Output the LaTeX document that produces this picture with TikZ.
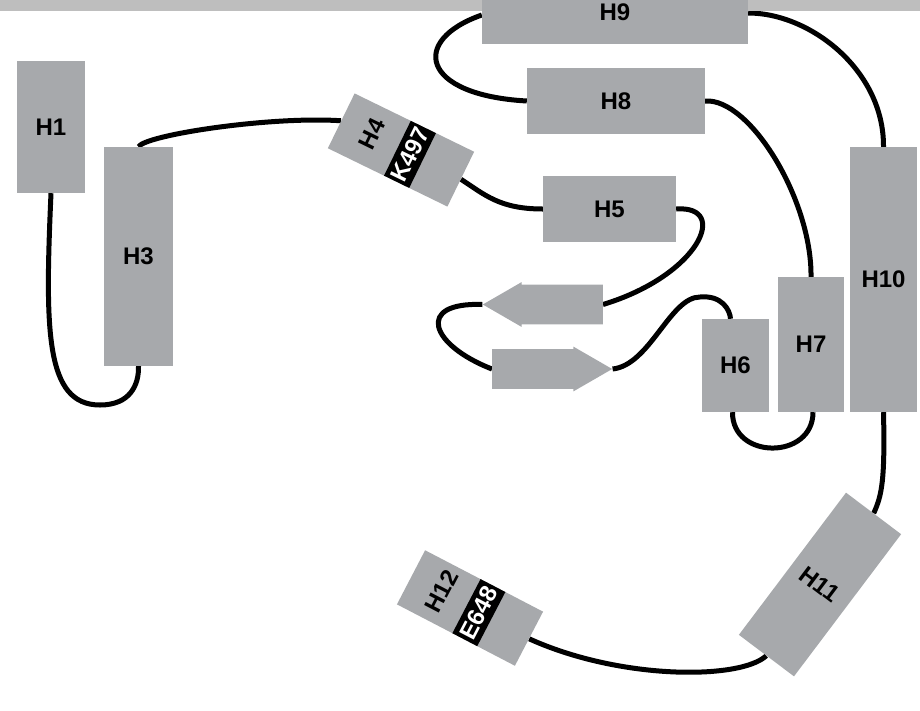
\documentclass[tikz,border=0pt]{standalone}
\usepackage{fontspec}
\setmainfont{Liberation Sans}
\usetikzlibrary{shapes.arrows}
\pgfdeclarelayer{back}
\pgfsetlayers{back,main}
\definecolor{helixgray}{HTML}{A7A9AC}
\definecolor{stripgray}{HTML}{BEBEBE}
\tikzset{
helix/.style={fill=helixgray,inner sep=0pt,font=\bfseries\fontsize{24}{24}\selectfont},
strand/.style={single arrow,fill=helixgray,inner xsep=0pt,inner ysep=19.75pt,minimum height=120pt,single arrow tip angle=60,single arrow head extend=2.5pt},
loop/.style={line width=5pt},
tag/.style={fill=black,text=white,inner sep=0pt,font=\bfseries\fontsize{24}{24}\selectfont},
}
\providecommand{\TaggedHelix}[6]{
\begin{scope}[shift={(#2)},rotate=#3,transform shape]
\node[helix,minimum width=133pt,minimum height=61pt] (#1) at (0,0) {};
\node[font=\bfseries\fontsize{24}{24}\selectfont,rotate=90] at (-33,2) {#4};
\node[tag,rotate=90,minimum width=61pt,minimum height=28pt] (#5) at (10,0) {#6};
\end{scope}
}

\begin{document}
\begin{tikzpicture}[x=1pt,y=1pt]
\useasboundingbox (0,0) rectangle (920,-710);
\fill[stripgray] (0,0) rectangle (920,-11);

\node[helix,minimum width=68pt,minimum height=132pt] (h1) at (51,-127) {H1};
\node[helix,minimum width=69pt,minimum height=219pt] (h3) at (138.5,-256.5) {H3};
\TaggedHelix{h4}{401,-150}{-26}{H4}{k497}{K497}
\node[helix,minimum width=133pt,minimum height=66pt] (h5) at (609.5,-209) {H5};
\node[strand,shape border rotate=180,anchor=tail] (b1) at (603,-304.5) {};
\node[strand,anchor=tail] (b2) at (492,-369) {};
\node[helix,minimum width=67pt,minimum height=93pt] (h6) at (735.5,-365.5) {H6};
\node[helix,minimum width=66pt,minimum height=135pt] (h7) at (811,-344.5) {H7};
\node[helix,minimum width=178pt,minimum height=66pt] (h8) at (616,-101) {H8};
\node[helix,minimum width=266pt,minimum height=64pt] (h9) at (615,-12) {H9};
\node[helix,minimum width=67pt,minimum height=265pt] (h10) at (883.5,-279.5) {H10};
\node[helix,rotate=-37,minimum width=69pt,minimum height=178pt] (h11) at (820,-584.5) {H11};
\TaggedHelix{h12}{470,-608}{-27.5}{H12}{e648}{E648}

\begin{pgfonlayer}{back}
\draw[loop] (h1.south) .. controls (45,-330) and (45,-405) .. (100,-405) .. controls (130,-405) and (139,-385) .. (h3.south);
\draw[loop] (h3.north) .. controls (145,-135) and (270,-116) .. (h4.west);
\draw[loop] (h4.east) .. controls (485,-195) and (500,-209) .. (h5.west);
\draw[loop] (h5.east) .. controls (730,-205) and (700,-275) .. (b1.tail);
\draw[loop] (b1.tip) .. controls (415,-302) and (430,-345) .. (b2.tail);
\draw[loop] (b2.tip) .. controls (650,-365) and (670,-297) .. (700,-297) .. controls (722,-295) and (730,-310) .. ([xshift=-5pt]h6.north);
\draw[loop] ([xshift=-3pt]h6.south) .. controls (732,-460) and (813,-460) .. ([xshift=2pt]h7.south);
\draw[loop] (h7.north) .. controls (812,-200) and (750,-98) .. (h8.east);
\draw[loop] (h8.west) .. controls (420,-95) and (410,-40) .. ([yshift=-3pt]h9.west);
\draw[loop] ([yshift=-1pt]h9.east) .. controls (810,-13) and (884,-70) .. (h10.north);
\draw[loop] (h10.south) .. controls (885,-480) and (882,-495) .. (h11.north);
\draw[loop] (h11.south) .. controls (740,-680) and (620,-680) .. (h12.east);
\end{pgfonlayer}
\end{tikzpicture}
\end{document}
